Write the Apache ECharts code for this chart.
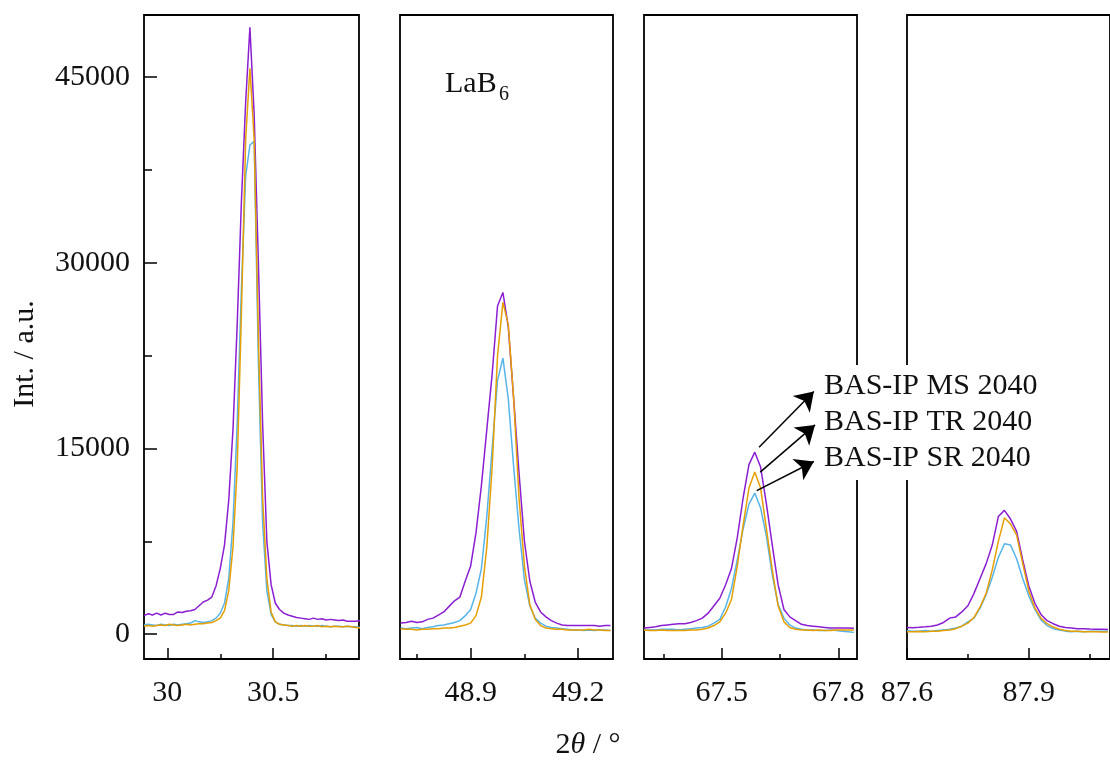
<!DOCTYPE html>
<html><head><meta charset="utf-8">
<script src="https://cdn.jsdelivr.net/npm/echarts@6/dist/echarts.min.js"></script>
<style>html,body{margin:0;padding:0;background:#fff}#c{width:1110px;height:763px}</style>
</head><body><div id="c"></div>
<script>
const seriesNames = ['BAS-IP MS 2040', 'BAS-IP TR 2040', 'BAS-IP SR 2040'];
const sampleLabel = ['LaB', '6'];
const yTitle = 'Int. / a.u.';

// Panel 1 (~30.4°)
const x1 = [29.89,29.91,29.93,29.95,29.97,29.99,30.01,30.03,30.05,30.07,30.09,30.11,30.13,30.15,30.17,30.19,30.21,30.23,30.25,30.27,30.29,30.31,30.33,30.35,30.37,30.39,30.41,30.43,30.45,30.47,30.49,30.51,30.53,30.55,30.57,30.59,30.61,30.63,30.65,30.67,30.69,30.71,30.73,30.75,30.77,30.79,30.81,30.83,30.85,30.87,30.89,30.91];
const ms1 = [1500,1650,1550,1700,1550,1700,1600,1600,1800,1750,1850,1900,2000,2300,2600,2750,3000,3900,5300,7200,10800,16500,25000,35000,43000,49000,42000,30000,17000,7500,4000,2500,2000,1700,1550,1450,1350,1300,1250,1200,1300,1200,1250,1150,1200,1150,1100,1150,1050,1050,1050,1100];
const tr1 = [650,700,650,700,750,700,800,750,700,750,800,750,800,850,850,900,950,1100,1300,1900,3500,7000,13500,26000,40000,45700,40000,24000,11000,4500,1800,1000,800,750,700,650,700,650,700,650,650,700,600,650,600,650,600,600,650,600,550,500];
const sr1 = [750,800,750,700,800,750,700,800,750,800,850,900,1100,1000,950,1000,1100,1300,1700,2500,4500,9000,17000,28000,37000,39500,39800,22000,9000,3500,1600,1000,800,750,700,700,650,700,650,700,650,650,700,650,600,650,650,600,650,600,600,550];

// Panel 2 (~49.0°)
const x2 = [48.705,48.72,48.735,48.75,48.765,48.78,48.795,48.81,48.825,48.84,48.855,48.87,48.885,48.9,48.915,48.93,48.945,48.96,48.975,48.99,49.005,49.02,49.035,49.05,49.065,49.08,49.095,49.11,49.125,49.14,49.155,49.17,49.185,49.2,49.215,49.23,49.245,49.26,49.275,49.29];
const ms2 = [900,950,1050,950,1000,1200,1300,1550,1800,2250,2700,3000,4300,5500,8200,12000,16500,21000,26500,27600,24800,19000,13000,7500,4300,2600,1800,1400,1100,900,750,700,700,700,700,700,700,650,700,700];
const tr2 = [450,400,400,350,400,400,450,450,500,500,550,650,750,900,1500,3000,7000,13500,22500,26800,25000,19000,11000,5500,2400,1200,700,500,450,400,400,350,350,350,350,400,350,350,300,300];
const sr2 = [500,450,500,550,450,550,600,700,750,850,950,1100,1500,2000,3300,5300,9500,15000,20500,22300,19000,13500,8500,4400,2300,1300,900,650,550,500,450,400,350,350,300,350,300,350,350,300];

// Panel 3 (~67.6°)
const x3 = [67.3,67.315,67.33,67.345,67.36,67.375,67.39,67.405,67.42,67.435,67.45,67.465,67.48,67.495,67.51,67.525,67.54,67.555,67.57,67.585,67.6,67.615,67.63,67.645,67.66,67.675,67.69,67.705,67.72,67.735,67.75,67.765,67.78,67.795,67.81,67.825,67.84];
const ms3 = [500,550,600,700,750,800,850,850,950,1100,1300,1700,2300,2900,4000,5300,7800,11000,13700,14700,13500,10500,7200,4000,2000,1400,1100,800,700,650,600,550,500,500,500,500,480];
const tr3 = [350,300,300,350,300,300,300,300,350,350,400,500,700,1000,1700,2800,5500,8800,11800,13100,11800,8500,5200,2300,1000,550,400,350,350,300,350,300,300,350,350,350,350];
const sr3 = [350,350,350,400,400,400,350,400,450,500,550,650,900,1200,2200,3700,6000,8500,10500,11400,10200,7900,4800,2400,1300,750,500,400,350,350,300,300,350,300,250,200,150];

// Panel 4 (~87.8°)
const x4 = [87.6,87.615,87.63,87.645,87.66,87.675,87.69,87.705,87.72,87.735,87.75,87.765,87.78,87.795,87.81,87.825,87.84,87.855,87.87,87.885,87.9,87.915,87.93,87.945,87.96,87.975,87.99,88.005,88.02,88.035,88.05,88.065,88.08,88.095];
const ms4 = [550,530,560,600,650,750,950,1300,1400,1800,2300,3300,4500,5700,7200,9500,10000,9300,8300,6000,3900,2500,1600,1100,850,650,550,500,450,450,420,400,400,380];
const tr4 = [200,200,220,200,250,250,300,350,450,650,900,1350,2200,3300,5200,7500,9400,8900,8000,5700,3500,2100,1300,850,580,400,300,250,250,200,200,200,180,180];
const sr4 = [280,250,250,300,250,300,350,400,500,650,1000,1300,2100,3200,4600,6200,7300,7200,6100,4500,3100,2000,1150,700,450,350,250,200,250,200,250,250,250,250];

// Tick values / labels
const xMajor = [[30, 30.5], [48.9, 49.2], [67.5, 67.8], [87.6, 87.9]];
const xMinor = [[30.25, 30.75], [48.75, 49.05], [67.35, 67.65], [87.75, 88.05]];
const yMajor = [0, 15000, 30000, 45000];
const yMinor = [7500, 22500, 37500];

// Arrow annotations (data coordinates in panel 3): MS, TR, SR
const arrowFrom = [[67.596, 15100], [67.599, 13090], [67.590, 11600]];
const arrowTo = [[67.737, 19600], [67.740, 16900], [67.737, 13950]];

const FONT = "'Liberation Serif','Times New Roman',serif";
const FS = 30;
const COLORS = ['#8B1ED2', '#E69F00', '#56B4E9'];
const panels = [
  {x: x1, ys: [ms1, tr1, sr1], min: 29.89, max: 30.905, left: 144, width: 215},
  {x: x2, ys: [ms2, tr2, sr2], min: 48.703, max: 49.297, left: 400, width: 213},
  {x: x3, ys: [ms3, tr3, sr3], min: 67.30, max: 67.848, left: 644, width: 213},
  {x: x4, ys: [ms4, tr4, sr4], min: 87.60, max: 88.10, left: 907, width: 215}
];

const grid = [], xAxis = [], yAxis = [], series = [];
const tickStyle = {color: '#000', width: 1.5};
panels.forEach((p, i) => {
  grid.push({left: p.left, width: p.width, top: 15, height: 644, show: true,
    borderColor: '#000', borderWidth: 1.8, backgroundColor: 'transparent'});
  xAxis.push({type: 'value', gridIndex: i, min: p.min, max: p.max, position: 'bottom',
    axisLine: {show: false, onZero: false}, splitLine: {show: false},
    axisTick: {show: true, inside: true, length: 11, customValues: xMajor[i], lineStyle: tickStyle},
    axisLabel: {show: true, customValues: xMajor[i], formatter: v => String(v),
      fontSize: FS, fontFamily: FONT, color: '#111', margin: 19}});
  xAxis.push({type: 'value', gridIndex: i, min: p.min, max: p.max, position: 'bottom',
    axisLine: {show: false, onZero: false}, splitLine: {show: false}, axisLabel: {show: false},
    axisTick: {show: true, inside: true, length: 5, customValues: xMinor[i], lineStyle: tickStyle}});
  yAxis.push({type: 'value', gridIndex: i, min: -2000, max: 50000, position: 'left',
    axisLine: {show: false, onZero: false}, splitLine: {show: false},
    axisTick: {show: false},
    axisLabel: {show: i === 0, customValues: yMajor, formatter: v => String(v),
      fontSize: FS, fontFamily: FONT, color: '#111', margin: 14}});
});
// major and minor y ticks of the first panel
yAxis.push({type: 'value', gridIndex: 0, min: -2000, max: 50000, position: 'left',
  axisLine: {show: false, onZero: false}, splitLine: {show: false}, axisLabel: {show: false},
  axisTick: {show: true, inside: true, length: 13, customValues: yMajor, lineStyle: tickStyle}});
yAxis.push({type: 'value', gridIndex: 0, min: -2000, max: 50000, position: 'left',
  axisLine: {show: false, onZero: false}, splitLine: {show: false}, axisLabel: {show: false},
  axisTick: {show: true, inside: true, length: 8, customValues: yMinor, lineStyle: tickStyle}});

const drawOrder = [0, 2, 1]; // MS, SR, TR (TR on top)
panels.forEach((p, i) => {
  drawOrder.forEach(k => {
    const s = {
      name: seriesNames[k], type: 'line', xAxisIndex: 2 * i, yAxisIndex: i,
      data: p.x.map((xv, j) => [xv, p.ys[k][j]]),
      showSymbol: false, symbol: 'none', clip: true, silent: true,
      lineStyle: {color: COLORS[k], width: 1.5}, itemStyle: {color: COLORS[k]},
      z: 2 + (k === 1 ? 2 : k === 2 ? 1 : 0)
    };
    if (i === 2) {
      s.markLine = {
        silent: true, animation: false, symbol: ['none', 'arrow'], symbolSize: 18,
        label: {show: false}, lineStyle: {color: '#000', width: 1.5, type: 'solid'},
        itemStyle: {color: '#000'},
        emphasis: {disabled: true},
        data: [[{coord: arrowFrom[k]}, {coord: arrowTo[k]}]]
      };
    }
    series.push(s);
  });
});

const legendY = [386, 422, 458];
const graphic = [
  {type: 'rect', shape: {x: 817, y: 365, width: 232, height: 115}, style: {fill: '#fff'}, z: 50, silent: true},
  ...seriesNames.map((n, k) => ({type: 'text', x: 824, y: legendY[k], z: 51, silent: true,
    style: {text: n, font: FS + 'px ' + FONT, fill: '#111', textAlign: 'left', textVerticalAlign: 'middle'}})),
  {type: 'text', x: 445, y: 84, z: 51, silent: true,
    style: {text: sampleLabel[0], font: FS + 'px ' + FONT, fill: '#111', textAlign: 'left', textVerticalAlign: 'middle'}},
  {type: 'text', x: 499, y: 95, z: 51, silent: true,
    style: {text: sampleLabel[1], font: '20px ' + FONT, fill: '#111', textAlign: 'left', textVerticalAlign: 'middle'}},
  {type: 'text', x: 25, y: 354, rotation: Math.PI / 2, z: 51, silent: true,
    style: {text: yTitle, font: FS + 'px ' + FONT, fill: '#111', textAlign: 'center', textVerticalAlign: 'middle'}},
  {type: 'text', x: 588, y: 745, z: 51, silent: true,
    style: {text: '{n|2}{i|θ}{n| / °}', textAlign: 'center', textVerticalAlign: 'middle', fill: '#111',
      rich: {n: {fontSize: FS, fontFamily: FONT, fill: '#111'}, i: {fontSize: FS, fontFamily: FONT, fontStyle: 'italic', fill: '#111'}}}}
];

const chart = echarts.init(document.getElementById('c'), null, {renderer: 'canvas'});
chart.setOption({animation: false, backgroundColor: '#fff', grid, xAxis, yAxis, series, graphic});
</script></body></html>
